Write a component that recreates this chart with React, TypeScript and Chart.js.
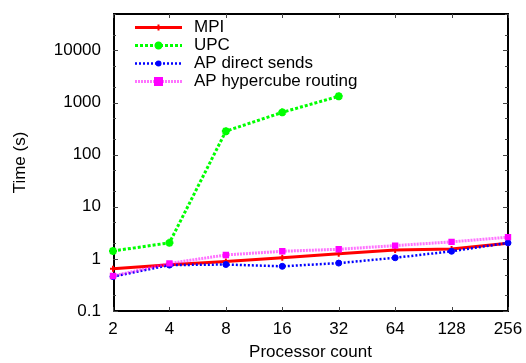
import React, { useEffect, useRef } from "react";
import { Chart, registerables } from "chart.js";

Chart.register(...registerables);

const categories = ["2", "4", "8", "16", "32", "64", "128", "256"];
const mpi = [0.645, 0.77, 0.89, 1.05, 1.26, 1.48, 1.55, 2.0];
const upc = [1.42, 2.03, 282, 648, 1320];
const apDirect = [0.457, 0.76, 0.78, 0.72, 0.83, 1.05, 1.4, 2.03];
const apHypercube = [0.47, 0.82, 1.19, 1.4, 1.53, 1.8, 2.12, 2.61];
const yTicks = [0.1, 1, 10, 100, 1000, 10000];
const yMinorFactors = [2, 5];

const FONT = "'Liberation Sans', Arial, Helvetica, sans-serif";
const FS = 17;

const framePlugin = {
  id: "frame",
  beforeDatasetsDraw(chart: any) {
    const { ctx, chartArea } = chart;
    const { left, right, top, bottom } = chartArea;
    const xs = chart.scales.x;
    const ys = chart.scales.y;
    ctx.save();
    ctx.strokeStyle = "#000";
    ctx.lineWidth = 2;
    ctx.beginPath();
    ctx.rect(left + 1, top, right - left - 1, bottom - top);
    ctx.stroke();
    ctx.lineWidth = 1;
    ctx.strokeStyle = "#444";
    ctx.beginPath();
    for (let i = 0; i < categories.length; i++) {
      const px = Math.round(xs.getPixelForValue(i)) + 0.5;
      ctx.moveTo(px, bottom);
      ctx.lineTo(px, bottom - 4);
      ctx.moveTo(px, top);
      ctx.lineTo(px, top + 4);
    }
    for (const v of yTicks) {
      const py = Math.round(ys.getPixelForValue(v)) + 0.5;
      ctx.moveTo(left, py);
      ctx.lineTo(left + 5, py);
      ctx.moveTo(right, py);
      ctx.lineTo(right - 5, py);
      for (const f of yMinorFactors) {
        const mv = v * f;
        if (mv > ys.max) continue;
        const my = Math.round(ys.getPixelForValue(mv)) + 0.5;
        ctx.moveTo(left, my);
        ctx.lineTo(left + 3, my);
        ctx.moveTo(right, my);
        ctx.lineTo(right - 3, my);
      }
    }
    ctx.stroke();
    ctx.restore();
  },
};

const legendPlugin = {
  id: "insideLegend",
  afterDraw(chart: any) {
    const { ctx } = chart;
    const x0 = 135;
    const x1 = 182;
    const xm = (x0 + x1) / 2;
    chart.data.datasets.forEach((ds: any, i: number) => {
      const y = 27.5 + 18 * i;
      ctx.save();
      ctx.strokeStyle = ds.borderColor;
      ctx.lineWidth = ds.borderWidth;
      ctx.setLineDash(ds.borderDash || []);
      ctx.beginPath();
      ctx.moveTo(x0, y);
      ctx.lineTo(x1, y);
      ctx.stroke();
      ctx.setLineDash([]);
      const r = ds.pointRadius;
      ctx.fillStyle = ds.pointBackgroundColor;
      ctx.strokeStyle = ds.pointBorderColor;
      ctx.lineWidth = ds.pointBorderWidth;
      const style = ds.pointStyle;
      ctx.beginPath();
      if (style === "rect") {
        ctx.fillRect(xm - r, y - r, 2 * r, 2 * r);
      } else if (style === "circle") {
        ctx.arc(xm, y, r, 0, Math.PI * 2);
        ctx.fill();
      } else if (style === "cross") {
        ctx.moveTo(xm - r, y);
        ctx.lineTo(xm + r, y);
        ctx.moveTo(xm, y - r);
        ctx.lineTo(xm, y + r);
        ctx.stroke();
      } else {
        ctx.moveTo(xm - r, y);
        ctx.lineTo(xm + r, y);
        ctx.moveTo(xm, y - r);
        ctx.lineTo(xm, y + r);
        ctx.moveTo(xm - r * 0.7, y - r * 0.7);
        ctx.lineTo(xm + r * 0.7, y + r * 0.7);
        ctx.moveTo(xm - r * 0.7, y + r * 0.7);
        ctx.lineTo(xm + r * 0.7, y - r * 0.7);
        ctx.stroke();
      }
      ctx.fillStyle = "#000";
      ctx.font = `${FS}px ${FONT}`;
      ctx.textBaseline = "middle";
      ctx.textAlign = "left";
      ctx.fillText(ds.label, 194, y);
      ctx.restore();
    });
  },
};

export default function App() {
  const ref = useRef<HTMLCanvasElement>(null);
  useEffect(() => {
    document.body.style.margin = "0";
    const canvas = ref.current;
    if (!canvas) return;
    const chart = new Chart(canvas, {
      type: "line",
      data: {
        labels: categories,
        datasets: [
          {
            label: "MPI",
            data: mpi,
            borderColor: "#ff0000",
            backgroundColor: "#ff0000",
            borderWidth: 3,
            pointStyle: "cross",
            pointRadius: 3,
            pointBorderWidth: 2,
            pointBackgroundColor: "#ff0000",
            pointBorderColor: "#ff0000",
            order: 4,
          },
          {
            label: "UPC",
            data: upc,
            borderColor: "#00ff00",
            backgroundColor: "#00ff00",
            borderWidth: 3,
            borderDash: [3, 2],
            pointStyle: "star",
            pointRadius: 4,
            pointBorderWidth: 2.5,
            pointBackgroundColor: "#00ff00",
            pointBorderColor: "#00ff00",
            order: 3,
          },
          {
            label: "AP direct sends",
            data: apDirect,
            borderColor: "#0000ff",
            backgroundColor: "#0000ff",
            borderWidth: 2.5,
            borderDash: [2, 2],
            pointStyle: "circle",
            pointRadius: 3,
            pointBorderWidth: 1,
            pointBackgroundColor: "#0000ff",
            pointBorderColor: "#0000ff",
            order: 2,
          },
          {
            label: "AP hypercube routing",
            data: apHypercube,
            borderColor: "rgba(255,0,255,0.55)",
            backgroundColor: "#ff00ff",
            borderWidth: 3,
            borderDash: [2, 1],
            pointStyle: "rect",
            pointRadius: 4.5,
            pointBorderWidth: 0,
            pointBackgroundColor: "#ff00ff",
            pointBorderColor: "#ff00ff",
            order: 1,
          },
        ],
      },
      options: {
        responsive: true,
        maintainAspectRatio: false,
        animation: false,
        layout: { padding: { left: 0, right: 18, top: 14, bottom: 0 } },
        plugins: {
          legend: { display: false },
          tooltip: { enabled: false },
        },
        elements: { line: { tension: 0 } },
        scales: {
          x: {
            type: "category",
            offset: false,
            grid: { display: false, drawTicks: false },
            border: { display: false },
            ticks: {
              color: "#000",
              font: { family: FONT, size: FS },
              padding: 8,
              maxRotation: 0,
              autoSkip: false,
            },
            title: {
              display: true,
              text: "Processor count",
              color: "#000",
              font: { family: FONT, size: FS },
              padding: { top: 0, bottom: 0 },
            },
            afterFit: (s: any) => {
              s.height = 52;
              s.paddingLeft = 0;
              s.paddingRight = 0;
            },
          },
          y: {
            type: "logarithmic",
            min: 0.1,
            max: 50000,
            grid: { display: false, drawTicks: false },
            border: { display: false },
            afterBuildTicks: (s: any) => {
              s.ticks = yTicks.map((v) => ({ value: v }));
            },
            ticks: {
              color: "#000",
              font: { family: FONT, size: FS },
              padding: 12,
              callback: (v: any) => (v < 1 ? String(v) : String(Math.round(v))),
            },
            title: {
              display: true,
              text: "Time (s)",
              color: "#000",
              font: { family: FONT, size: FS },
              padding: { top: 10, bottom: 0 },
            },
            afterFit: (s: any) => {
              s.width = 113;
              s.paddingTop = 0;
              s.paddingBottom = 0;
            },
          },
        },
      },
      plugins: [framePlugin, legendPlugin],
    });
    return () => chart.destroy();
  }, []);
  return (
    <div style={{ position: "absolute", left: 0, top: 0, width: 526, height: 363, background: "#fff" }}>
      <canvas ref={ref} />
    </div>
  );
}
